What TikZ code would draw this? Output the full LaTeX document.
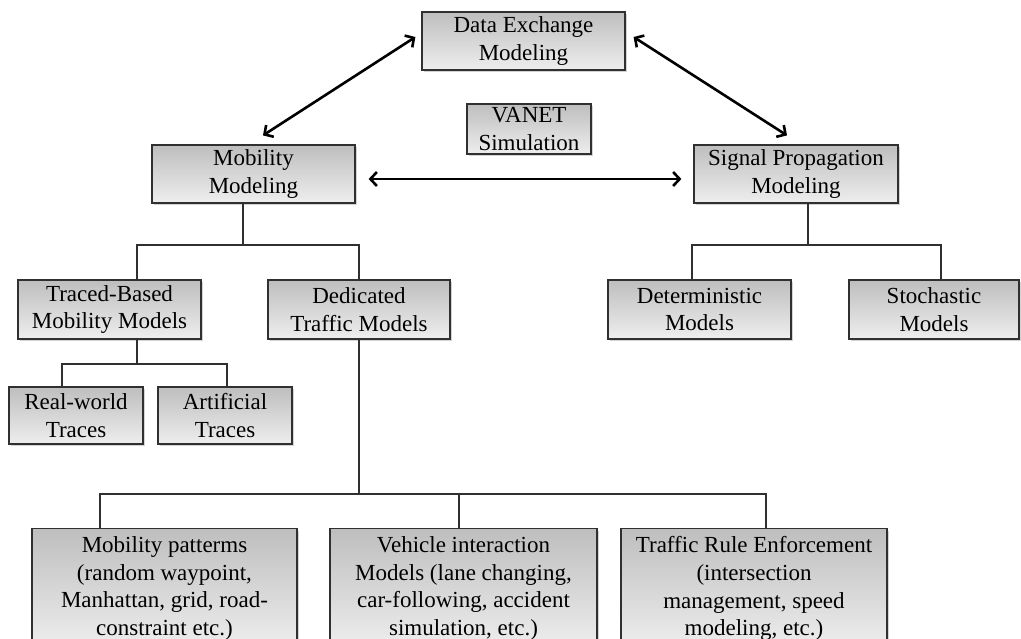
\documentclass[tikz,border=0pt]{standalone}
\usepackage{fontspec}
\setmainfont{Liberation Serif}
\usetikzlibrary{arrows.meta,shadows}
\definecolor{boxtop}{HTML}{BEBEBE}
\definecolor{boxbot}{HTML}{EEEEEE}
\definecolor{edge}{HTML}{303030}
\begin{document}
\begin{tikzpicture}[x=1pt,y=-1pt,
  box/.style={draw=edge, line width=1.2pt, top color=boxtop, bottom color=boxbot,
    drop shadow={opacity=0.35, shadow xshift=1.5pt, shadow yshift=-2pt},
    align=center, inner sep=0pt, font=\fontsize{23}{27.6}\selectfont},
  tallbox/.style={box, anchor=north, minimum height=120pt},
  biarrow/.style={line width=2.6pt, {Straight Barb[length=6.5pt,width=14pt]}-{Straight Barb[length=6.5pt,width=14pt]}},
  link/.style={draw=edge, line width=1.2pt}]
\useasboundingbox (0,0) rectangle (1021,639);
\clip (0,0) rectangle (1021,639);

% top level
\node[box, minimum width=203pt, minimum height=58pt] (data) at (523.5,41) {Data Exchange\\Modeling};
\node[box, minimum width=124pt, minimum height=50pt] (vanet) at (529,129) {VANET\\Simulation};
\node[box, minimum width=203pt, minimum height=58pt] (mob) at (253.5,174) {Mobility\\Modeling};
\node[box, minimum width=204pt, minimum height=58pt] (sig) at (796,174) {Signal Propagation\\Modeling};

% second level
\node[box, minimum width=183pt, minimum height=59pt] (traced) at (109.5,309.5) {Traced-Based\\Mobility Models};
\node[box, minimum width=182pt, minimum height=59pt] (dedic) at (359,309.5) {Dedicated\\Traffic Models};
\node[box, minimum width=183pt, minimum height=59pt] (determ) at (699.5,309.5) {Deterministic\\Models};
\node[box, minimum width=170pt, minimum height=59pt] (stoch) at (934,309.5) {Stochastic\\Models};

% trace-based children
\node[box, minimum width=134pt, minimum height=57pt] (real) at (76,415.5) {Real-world\\Traces};
\node[box, minimum width=134pt, minimum height=57pt] (artif) at (225,415.5) {Artificial\\Traces};

% dedicated traffic model children
\node[tallbox, minimum width=265pt] (mobpat) at (164.5,528) {Mobility patterms\\(random waypoint,\\Manhattan, grid, road-\\constraint etc.)};
\node[tallbox, minimum width=267pt] (vehic) at (463.5,528) {Vehicle interaction\\Models (lane changing,\\car-following, accident\\simulation, etc.)};
\node[tallbox, minimum width=266pt] (traffic) at (754,528) {Traffic Rule Enforcement\\(intersection\\management, speed\\modeling, etc.)};

% two-way relations
\draw[biarrow] ([xshift=9.5pt,yshift=9pt]mob.north) -- ([xshift=-6pt,yshift=4pt]data.west);
\draw[biarrow] ([xshift=8pt,yshift=4pt]data.east) -- ([xshift=-9pt,yshift=9pt]sig.north);
\draw[biarrow] ([xshift=13pt,yshift=-5pt]mob.east) -- ([xshift=-12pt,yshift=-5pt]sig.west);

% junctions of the tree lines
\coordinate (mj) at (243,245);
\coordinate (tj) at (137,245);
\coordinate (sj) at (808,245);
\coordinate (dj) at (692,245);
\coordinate (stj) at (941,245);
\coordinate (trj) at (137,364);
\coordinate (rj) at (62,364);
\coordinate (aj) at (227,364);
\coordinate (dbj) at (359,494);
\coordinate (mpj) at (100,494);
\coordinate (vij) at (459,494);
\coordinate (tfj) at (766,494);

% mobility branch
\draw[link] (mob.south -| mj) -- (mj);
\draw[link] (traced.north -| tj) -- (tj) -- (dedic.north |- tj) -- (dedic.north);

% signal propagation branch
\draw[link] (sig.south -| sj) -- (sj);
\draw[link] (determ.north -| dj) -- (dj) -- (stj) -- (stoch.north -| stj);

% trace-based branch
\draw[link] (traced.south -| trj) -- (trj);
\draw[link] (real.north -| rj) -- (rj) -- (aj) -- (artif.north -| aj);

% dedicated branch
\draw[link] (dedic.south) -- (dbj);
\draw[link] (mobpat.north -| mpj) -- (mpj) -- (tfj) -- (traffic.north -| tfj);
\draw[link] (vij) -- (vehic.north -| vij);
\end{tikzpicture}
\end{document}
